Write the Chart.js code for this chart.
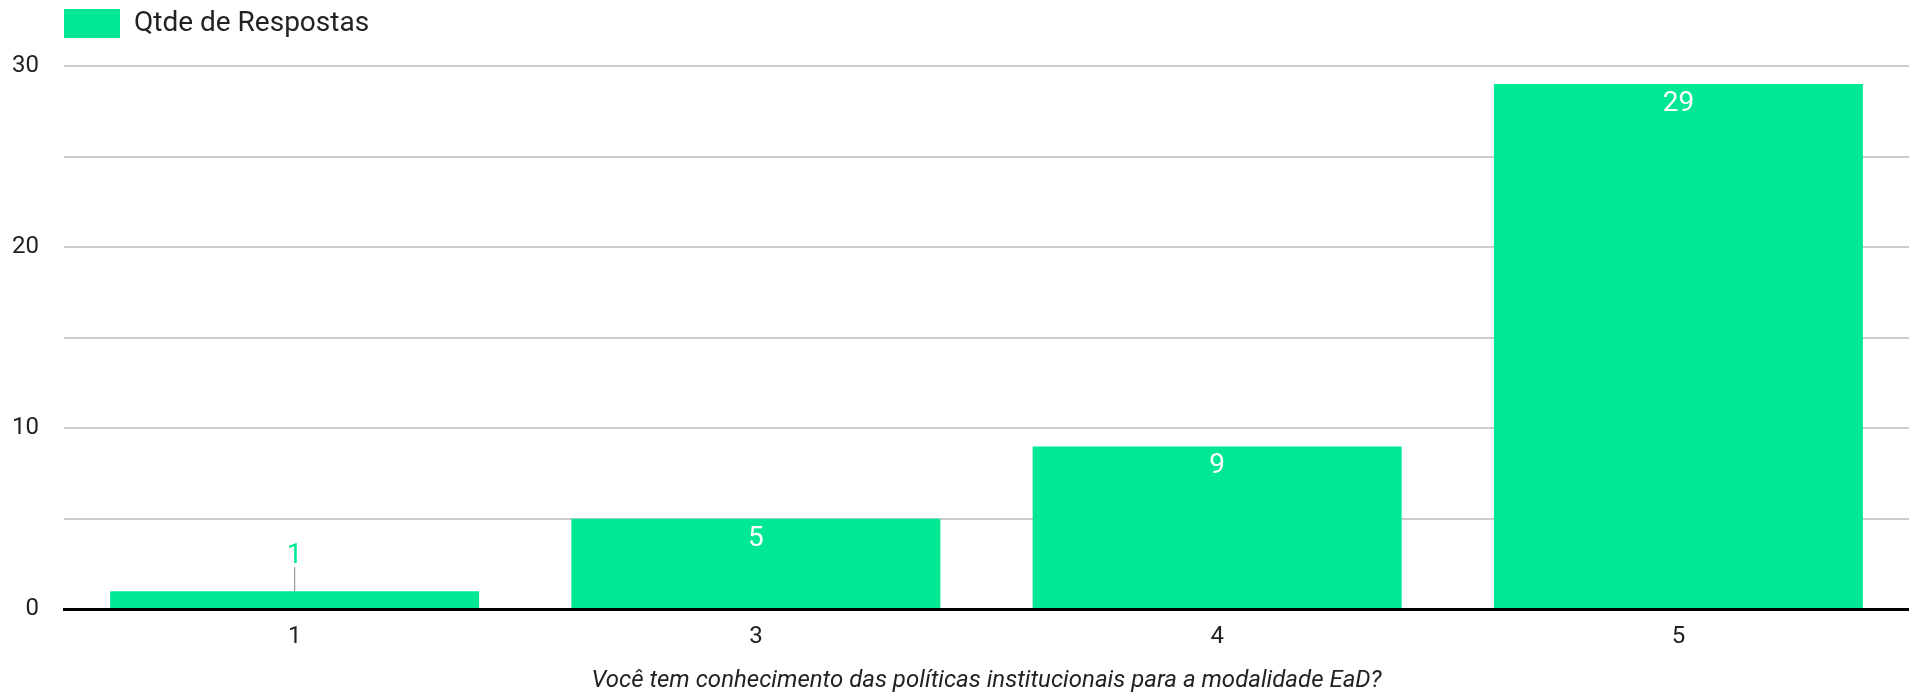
<!DOCTYPE html>
<html>
<head>
<meta charset="utf-8">
<script src="https://cdn.jsdelivr.net/npm/chart.js@4/dist/chart.umd.min.js"></script>
<style>
  body { margin: 0; background: #fff; }
  #wrap { width: 1909px; height: 699px; position: relative; }
</style>
</head>
<body>
<div id="wrap"><canvas id="respostasChart"></canvas></div>
<script>
const categories = ['1', '3', '4', '5'];
const respostas = [1, 5, 9, 29];
const seriesLabel = 'Qtde de Respostas';
const axisTitle = 'Você tem conhecimento das políticas institucionais para a modalidade EaD?';
const yTicks = [0, 10, 20, 30];

const green = '#00e893';
const topGap = 18;

Chart.defaults.font.family = 'Roboto';
Chart.defaults.color = '#222';

// legend sits over the plot area's left edge, and above the extra top gap
const legendShift = {
    id: 'legendShift',
    afterLayout(chart) {
        const shift = chart.chartArea.left - 9;
        chart.legend.left += shift;
        chart.legend.right += shift;
        chart.legend.top -= topGap;
        chart.legend.bottom -= topGap;
    }
};

// value labels: inside the bar in white, or above with a leader line when the bar is short
const barLabels = {
    id: 'barLabels',
    afterDatasetsDraw(chart) {
        const ctx = chart.ctx;
        const meta = chart.getDatasetMeta(0);
        ctx.save();
        ctx.font = '28px Roboto';
        ctx.textAlign = 'center';
        ctx.textBaseline = 'alphabetic';
        meta.data.forEach(function (bar, i) {
            const value = chart.data.datasets[0].data[i];
            const h = bar.base - bar.y;
            if (h > 40) {
                ctx.fillStyle = '#fff';
                ctx.fillText(value, bar.x, bar.y + 27);
            } else {
                ctx.strokeStyle = '#999';
                ctx.lineWidth = 1.2;
                ctx.beginPath();
                ctx.moveTo(bar.x, bar.y);
                ctx.lineTo(bar.x, bar.y - 24);
                ctx.stroke();
                ctx.fillStyle = green;
                ctx.fillText(value, bar.x, bar.y - 28);
            }
        });
        ctx.restore();
    }
};

new Chart(document.getElementById('respostasChart'), {
    type: 'bar',
    data: {
        labels: categories,
        datasets: [{
            label: seriesLabel,
            data: respostas,
            backgroundColor: green,
            borderWidth: 0,
            barPercentage: 0.8,
            categoryPercentage: 1.0,
        }]
    },
    options: {
        responsive: true,
        maintainAspectRatio: false,
        animation: false,
        layout: { padding: { top: topGap, right: 0, bottom: 0, left: 0 } },
        plugins: {
            legend: {
                position: 'top',
                align: 'start',
                labels: {
                    boxWidth: 56,
                    boxHeight: 29,
                    padding: 9,
                    font: { size: 28 },
                    color: '#222',
                }
            },
            tooltip: { enabled: false },
        },
        scales: {
            x: {
                grid: { display: false, drawTicks: false },
                border: { display: true, color: '#000', width: 3, z: 1 },
                ticks: { font: { size: 24 }, padding: 13, color: '#222' },
                title: {
                    display: true,
                    text: axisTitle,
                    font: { size: 24, style: 'italic' },
                    color: '#222',
                    padding: { top: 2, bottom: 4 },
                }
            },
            y: {
                min: 0,
                max: 30,
                afterFit: function (axis) { axis.width = 64; },
                grid: { color: '#cccccc', lineWidth: 2, drawTicks: false },
                border: { display: false },
                ticks: {
                    stepSize: 5,
                    padding: 25,
                    font: { size: 24 },
                    color: '#222',
                    callback: function (v) { return yTicks.includes(v) ? v : ''; }
                }
            }
        }
    },
    plugins: [legendShift, barLabels]
});
</script>
</body>
</html>
